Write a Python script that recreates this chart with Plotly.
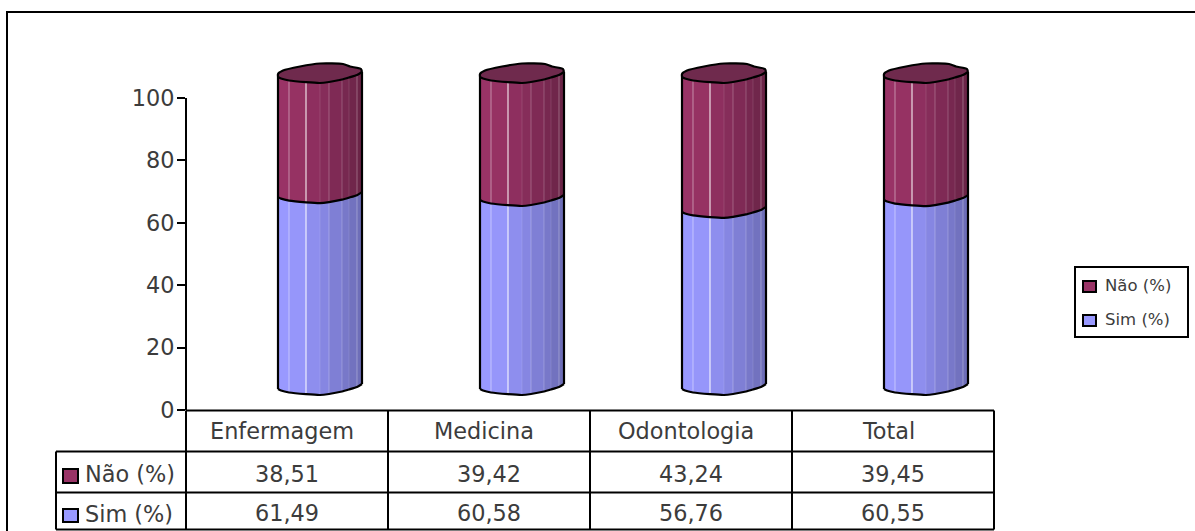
import plotly.graph_objects as go

categories = ["Enfermagem", "Medicina", "Odontologia", "Total"]
nao = [38.51, 39.42, 43.24, 39.45]
sim = [61.49, 60.58, 56.76, 60.55]
fmt = lambda v: f"{v:.2f}".replace(".", ",")

W, H = 1195, 531
X0, X1 = 186, 994
Y0, Y100 = 410, 98
PX_PER_UNIT = (Y0 - Y100) / 100
CAT_PX = (X1 - X0) / 4
Y_MAX = 116                      # room above 100 for the cylinder lids
Y_TOP_PX = Y0 - Y_MAX * PX_PER_UNIT

# strip edges of the faux cylinder, px from its left edge
EDGES = [0, 11, 28, 42, 51, 64, 71, 79, 84]
BAR_LEFT = -9            # px from category centre to the cylinder's left edge
LIFT = 15                # px the lowest front point sits above the value

# front curve: px above its lowest point, as (x px from left, rise)
FRONT = [(0, 6), (3, 4.5), (11, 2.5), (28, 0.8), (42, 0), (51, 1.0), (64, 3.5), (71, 5.5), (79, 8), (84, 11)]
# back of the lid: px above the lowest front point
BACK = [(84, 11), (83, 14), (72, 16.5), (65, 19), (42, 19.5), (22, 16.5), (5, 12.5), (0, 9), (0, 6)]

NAO_COL = ["#993366", "#963263", "#8e2f5f", "#862d5a", "#7f2a55", "#772850", "#70264b", "#6b2447"]
SIM_COL = ["#9999ff", "#9696fa", "#8e8eee", "#8686e2", "#7f7fd5", "#7878c9", "#7272bf", "#6e6eb8"]
SEP_ALPHA = [0.45, 1.0, 0.12, 0.25, 0.22, 0.12, 0.3]
LID = "#6f2a4d"
FAMILY = "DejaVu Sans"
TEXT_COL = "#3c3c3c"


def front_rise(p):
    for (a, ra), (b, rb) in zip(FRONT, FRONT[1:]):
        if a <= p <= b:
            return ra + (rb - ra) * (p - a) / (b - a)
    return 0


def xd(i, p):
    return i + (BAR_LEFT + p) / CAT_PX


def curve(i, value, a, b):
    pts = [p for p, _ in FRONT if a < p < b]
    xs = [a] + pts + [b]
    return [(xd(i, p), value + (LIFT + front_rise(p)) / PX_PER_UNIT) for p in xs]


fig = go.Figure()


def add_poly(xs, ys, fill):
    fig.add_trace(go.Scatter(x=xs, y=ys, mode="lines", fill="toself", fillcolor=fill,
                             line=dict(color="rgba(0,0,0,0)", width=0),
                             hoverinfo="skip", showlegend=False))


for lo_vals, hi_vals, cols in [
    ([0, 0, 0, 0], sim, SIM_COL),
    (sim, [a + b for a, b in zip(sim, nao)], NAO_COL),
]:
    for k, col in enumerate(cols):
        xs, ys = [], []
        for i in range(len(categories)):
            lo = curve(i, lo_vals[i], EDGES[k], EDGES[k + 1])
            hi = curve(i, hi_vals[i], EDGES[k], EDGES[k + 1])
            poly = lo + hi[::-1] + [lo[0]]
            xs += [p[0] for p in poly] + [None]
            ys += [p[1] for p in poly] + [None]
        add_poly(xs, ys, col)

# strip separators
for k, alpha in enumerate(SEP_ALPHA):
    xs, ys = [], []
    e = EDGES[k + 1]
    for i in range(len(categories)):
        r = (LIFT + front_rise(e)) / PX_PER_UNIT
        xs += [xd(i, e), xd(i, e), None]
        ys += [r, sim[i] + nao[i] + r, None]
    fig.add_trace(go.Scatter(x=xs, y=ys, mode="lines", hoverinfo="skip", showlegend=False,
                             line=dict(color=f"rgba(255,255,255,{alpha})", width=1)))

# lids and outlines
lx, ly, cx_, cy_, sx, sy = [], [], [], [], [], []
for i in range(len(categories)):
    total = sim[i] + nao[i]
    top = curve(i, total, 0, 84)
    back = [(xd(i, p), total + (LIFT + r) / PX_PER_UNIT) for p, r in BACK]
    lid = top + back
    lx += [p[0] for p in lid] + [None]
    ly += [p[1] for p in lid] + [None]
    bottom = curve(i, 0, 0, 84)
    mid = curve(i, sim[i], 0, 84)
    for seq in (bottom, mid, top, back):
        cx_ += [p[0] for p in seq] + [None]
        cy_ += [p[1] for p in seq] + [None]
    for seq in ((bottom[0], top[0]), (bottom[-1], top[-1])):
        sx += [p[0] for p in seq] + [None]
        sy += [p[1] for p in seq] + [None]
add_poly(lx, ly, LID)
fig.add_trace(go.Scatter(x=sx, y=sy, mode="lines", hoverinfo="skip", showlegend=False,
                         line=dict(color="#000000", width=2.2)))
fig.add_trace(go.Scatter(x=cx_, y=cy_, mode="lines", hoverinfo="skip", showlegend=False,
                         line=dict(color="#000000", width=2.2, shape="spline", smoothing=0.6)))


def px(x):
    return x / W


def py(y):
    return 1 - y / H


shapes, notes = [], []


def rect(x0, y0, x1, y1, fill=None, width=2):
    shapes.append(dict(type="rect", xref="paper", yref="paper", x0=px(x0), x1=px(x1), y0=py(y0), y1=py(y1),
                       line=dict(color="#000000", width=width), fillcolor=fill or "rgba(0,0,0,0)"))


def hline(x0, x1, y):
    shapes.append(dict(type="line", xref="paper", yref="paper", x0=px(x0), x1=px(x1), y0=py(y), y1=py(y),
                       line=dict(color="#000000", width=2)))


def vline(x, y0, y1):
    shapes.append(dict(type="line", xref="paper", yref="paper", x0=px(x), x1=px(x), y0=py(y0), y1=py(y1),
                       line=dict(color="#000000", width=2)))


def text(x, y, s, size=22, anchor="center"):
    notes.append(dict(xref="paper", yref="paper", x=px(x), y=py(y), text=s, showarrow=False,
                      xanchor=anchor, yanchor="middle",
                      font=dict(size=size, color=TEXT_COL, family=FAMILY)))


FONT_BIG = 22.4
TR = [410.5, 451.5, 492.5, 529.5]
rect(7, 12, 1210, 550)
hline(186, 994, TR[0])
hline(56, 994, TR[1])
hline(56, 994, TR[2])
hline(56, 994, TR[3])
vline(56, TR[1], TR[3])
for j in range(5):
    vline(X0 + j * CAT_PX, TR[0], TR[3])
for j, c in enumerate(categories):
    cx = X0 + (j + 0.5) * CAT_PX
    text(cx - 5, 431, c, FONT_BIG)
    text(cx, 474, fmt(nao[j]), FONT_BIG)
    text(cx, 513, fmt(sim[j]), FONT_BIG)
rect(63, 469, 78, 483, NAO_COL[0])
rect(63, 509, 78, 522, SIM_COL[0])
text(83, 474, "Não (%)", FONT_BIG, "left")
text(83, 514, "Sim (%)", FONT_BIG, "left")

rect(1075, 267, 1188, 337)
rect(1083, 281, 1096, 292, NAO_COL[0])
rect(1083, 315, 1096, 326, SIM_COL[0])
text(1103, 285, "Não (%)", 16.5, "left")
text(1103, 319, "Sim (%)", 16.5, "left")

# value axis line stops at 100 while the range leaves room for the lids
shapes.append(dict(type="line", xref="paper", yref="y", x0=px(X0), x1=px(X0), y0=0, y1=100,
                   line=dict(color="#000000", width=2)))

fig.update_layout(
    width=W, height=H, autosize=False, margin=dict(l=0, r=0, t=0, b=0),
    paper_bgcolor="#ffffff", plot_bgcolor="rgba(0,0,0,0)", showlegend=False,
    font=dict(family=FAMILY, color=TEXT_COL),
    shapes=shapes, annotations=notes,
    xaxis=dict(domain=[px(X0), px(X1)], range=[-0.5, 3.5], showgrid=False, zeroline=False,
               showticklabels=False, ticks="", showline=False, fixedrange=True, automargin=False),
    yaxis=dict(domain=[py(Y0), py(Y_TOP_PX)], range=[0, Y_MAX], tickvals=[0, 20, 40, 60, 80, 100],
               showgrid=False, zeroline=False, showline=False,
               ticks="outside", ticklen=8, tickwidth=2, tickcolor="#000000", ticklabelstandoff=-2,
               tickfont=dict(size=FONT_BIG, color=TEXT_COL, family=FAMILY),
               fixedrange=True, automargin=False),
)
fig.write_html("out.html", config=dict(displayModeBar=False),
               post_script="document.body.style.margin='0';document.documentElement.style.overflow='hidden';")
